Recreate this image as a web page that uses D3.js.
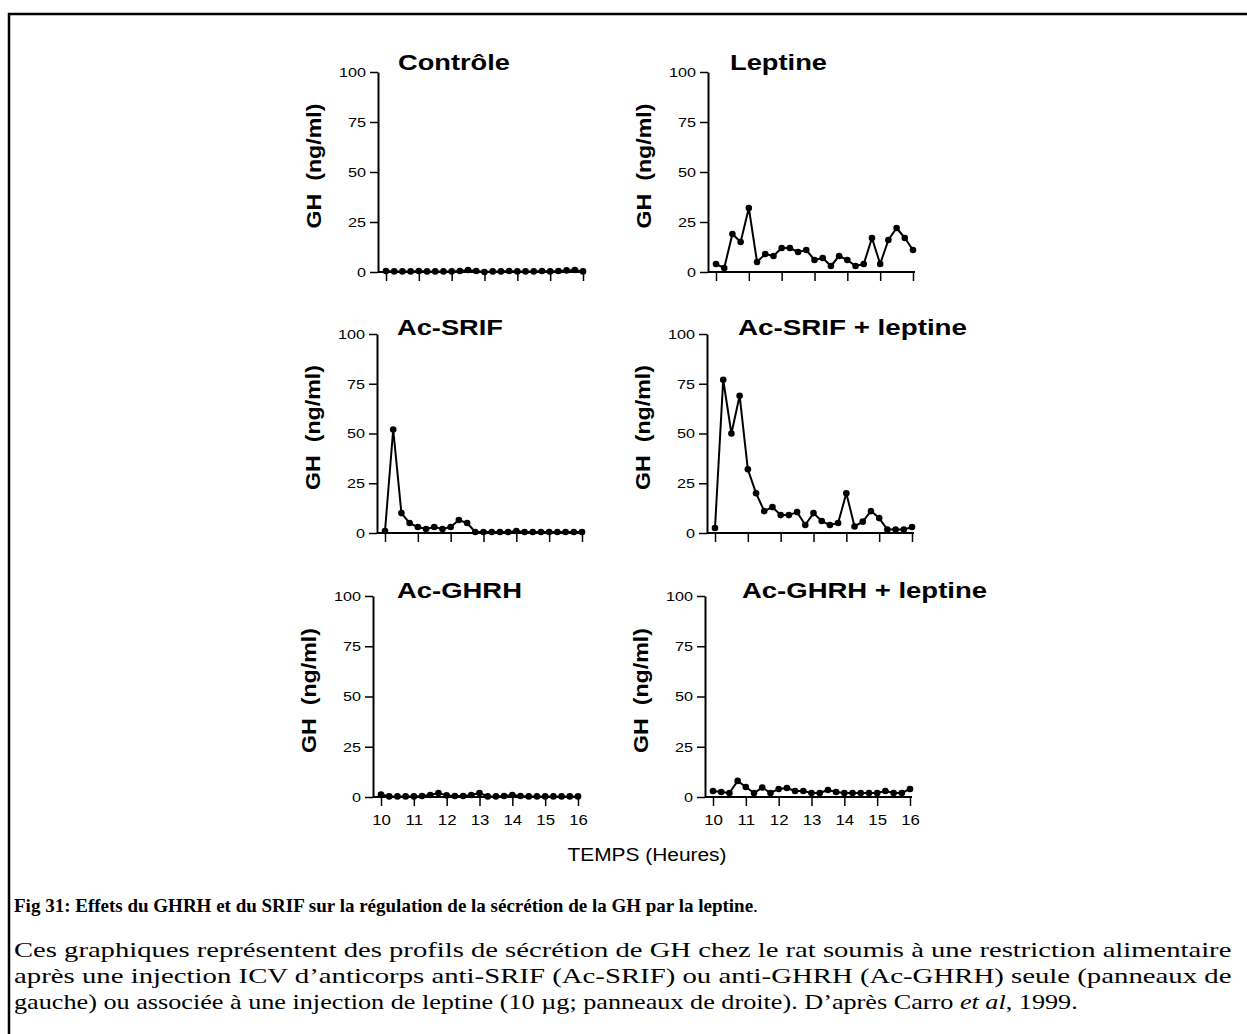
<!DOCTYPE html>
<html>
<head>
<meta charset="utf-8">
<script src="https://cdn.jsdelivr.net/npm/d3@7"></script>
<style>
  body { margin: 0; background: #fff; }
  svg text { fill: #000; }
</style>
</head>
<body>
<svg id="fig" width="1247" height="1034"></svg>
<script>
// sample times (hours), one sample every 15 min
const hours = [10, 10.25, 10.5, 10.75, 11, 11.25, 11.5, 11.75, 12, 12.25, 12.5, 12.75,
               13, 13.25, 13.5, 13.75, 14, 14.25, 14.5, 14.75, 15, 15.25, 15.5, 15.75, 16];

// GH (ng/ml)
const controle     = [0.5, 0.3, 0.3, 0.3, 0.5, 0.3, 0.3, 0.3, 0.3, 0.5, 1, 0.5, 0, 0.3, 0.3, 0.5, 0.3, 0.3, 0.3, 0.5, 0.3, 0.5, 0.8, 1, 0.3];
const leptine      = [4, 2, 19, 15, 32, 5, 9, 8, 12, 12, 10, 11, 6, 7, 3, 8, 6, 3, 4, 17, 4, 16, 22, 17, 11];
const acSrif       = [1, 52, 10, 5, 3, 2, 3, 2, 3, 6.5, 5, 0.5, 0.5, 0.5, 0.5, 0.5, 1, 0.5, 0.5, 0.5, 0.5, 0.5, 0.5, 0.5, 0.5];
const acSrifLep    = [2.5, 77, 50, 69, 32, 20, 11, 13, 9, 9, 10.5, 4, 10, 6, 4, 5, 20, 3.3, 5.7, 11, 7.5, 1.7, 1.7, 1.7, 3];
const acGhrh       = [1.2, 0.3, 0.3, 0.3, 0.3, 0.5, 1, 2, 0.8, 0.5, 0.5, 1, 2, 0.3, 0.3, 0.5, 1, 0.5, 0.3, 0.3, 0.3, 0.3, 0.3, 0.3, 0.3];
const acGhrhLep    = [3, 2.5, 2, 8, 5, 2, 4.7, 2, 4, 4.5, 3, 3, 2, 2, 3.5, 2.5, 2, 2, 2, 2, 2, 3, 2, 2, 4];

const panelTitles = ["Contrôle", "Leptine", "Ac-SRIF", "Ac-SRIF + leptine", "Ac-GHRH", "Ac-GHRH + leptine"];
const panelSeries = [controle, leptine, acSrif, acSrifLep, acGhrh, acGhrhLep];
const yTicks = [0, 25, 50, 75, 100];
const xTicks = [10, 11, 12, 13, 14, 15, 16];
const yLabel = "GH  (ng/ml)";
const xLabel = "TEMPS (Heures)";

const figTitle = "Fig 31: Effets du GHRH et du SRIF sur la régulation de la sécrétion de la GH par la leptine";
const captionLines = [
  "Ces graphiques représentent des profils de sécrétion de GH chez le rat soumis à une restriction alimentaire",
  "après une injection ICV d’anticorps anti-SRIF (Ac-SRIF) ou anti-GHRH (Ac-GHRH) seule (panneaux de"
];

const svg = d3.select("#fig");
const STRETCH = 1.2; // the scanned figure is a bit wider than tall
const sans = "Arial, 'Liberation Sans', sans-serif";
const serif = "'Times New Roman', 'Liberation Serif', serif";

// outer frame of the page
svg.append("rect")
  .attr("x", 9).attr("y", 14)
  .attr("width", 1260).attr("height", 1040)
  .attr("fill", "none").attr("stroke", "#000").attr("stroke-width", 2.5);

// where each panel sits: y-axis position, top (100) and bottom (0) pixel rows
const rows = [{top: 72, bot: 272, base: 70}, {top: 334, bot: 533, base: 335}, {top: 596, bot: 797, base: 598}];
const axisXs = [[378, 708], [377, 707], [373, 705]];
const titleDx = [[20, 22], [20, 31], [24, 37]];
const titleW = [[112, 97], [106, 229], [125, 245]];

panelSeries.forEach((vals, i) => {
  const r = Math.floor(i / 2), c = i % 2;
  const row = rows[r];
  const ax = axisXs[r][c];

  const x = d3.scaleLinear().domain([10, 16]).range([ax + 8, ax + 205]);
  const y = d3.scaleLinear().domain([0, 100]).range([row.bot, row.top]);

  const g = svg.append("g");

  // y axis
  const yAxis = g.append("g")
    .attr("transform", `translate(${ax},0)`)
    .call(d3.axisLeft(y).tickValues(yTicks).tickSize(8).tickSizeOuter(0).tickPadding(4));
  yAxis.select(".domain").attr("stroke-width", 2);
  yAxis.selectAll(".tick line").attr("stroke-width", 1.5);
  yAxis.selectAll(".tick text")
    .attr("font-family", sans)
    .attr("font-size", 13.5)
    .attr("x", 0)
    .attr("transform", `translate(-12,0) scale(${STRETCH},1)`);

  // x axis (labels only on the bottom row)
  const xAxis = g.append("g")
    .attr("transform", `translate(0,${row.bot})`)
    .call(d3.axisBottom(x).tickValues(xTicks).tickSize(9).tickSizeOuter(0)
      .tickFormat(r === 2 ? d3.format("d") : () => ""));
  xAxis.select(".domain").remove();
  xAxis.selectAll(".tick line").attr("stroke-width", 1.5);
  xAxis.selectAll(".tick text")
    .attr("font-family", sans)
    .attr("font-size", 14)
    .attr("y", 0).attr("dy", "0.71em")
    .attr("transform", `translate(0,18) scale(${STRETCH},1)`);
  g.append("line")
    .attr("x1", ax).attr("x2", x(16) + 2)
    .attr("y1", row.bot).attr("y2", row.bot)
    .attr("stroke", "#000").attr("stroke-width", 2);

  // y label
  g.append("text")
    .attr("transform", `translate(${ax - 57},${(row.top + row.bot) / 2 - 6}) rotate(-90)`)
    .attr("text-anchor", "middle")
    .attr("font-family", sans)
    .attr("font-weight", "bold").attr("font-size", 20)
    .attr("textLength", 125).attr("lengthAdjust", "spacingAndGlyphs")
    .attr("xml:space", "preserve")
    .text(yLabel);

  // panel title
  g.append("text")
    .attr("x", ax + titleDx[r][c]).attr("y", row.base)
    .attr("font-family", sans)
    .attr("font-weight", "bold").attr("font-size", 22)
    .attr("textLength", titleW[r][c]).attr("lengthAdjust", "spacingAndGlyphs")
    .text(panelTitles[i]);

  // profile
  const pts = hours.map((h, k) => [h, vals[k]]);
  g.append("path")
    .datum(pts)
    .attr("fill", "none").attr("stroke", "#000").attr("stroke-width", 2)
    .attr("stroke-linejoin", "round")
    .attr("d", d3.line().x(d => x(d[0])).y(d => y(d[1])));
  g.selectAll("circle")
    .data(pts)
    .enter()
    .append("circle")
    .attr("cx", d => x(d[0])).attr("cy", d => y(d[1]))
    .attr("r", 3.3).attr("fill", "#000");
});

// common x label
svg.append("text")
  .attr("x", 647).attr("y", 861)
  .attr("text-anchor", "middle")
  .attr("font-family", sans)
  .attr("font-size", 17.5)
  .attr("textLength", 159).attr("lengthAdjust", "spacingAndGlyphs")
  .text(xLabel);

// stretch a text line horizontally so it spans `w` pixels from its x
function fitWidth(t, x0, w) {
  const nat = t.node().getComputedTextLength();
  const k = w / nat;
  t.attr("transform", `translate(${x0},0) scale(${k},1)`).attr("x", 0);
}

// caption
const ft = svg.append("text")
  .attr("x", 14).attr("y", 912)
  .attr("font-family", serif).attr("font-size", 19)
  .attr("font-weight", "bold");
ft.append("tspan").text(figTitle);
ft.append("tspan").attr("font-weight", "normal").text(".");

captionLines.forEach((line, k) => {
  const t = svg.append("text")
    .attr("y", 957 + k * 26)
    .attr("font-family", serif).attr("font-size", 21)
    .text(line);
  fitWidth(t, 14, 1218);
});

const last = svg.append("text")
  .attr("y", 1009)
  .attr("font-family", serif).attr("font-size", 21);
last.append("tspan").text("gauche) ou associée à une injection de leptine (10 µg; panneaux de droite). D’après Carro ");
last.append("tspan").attr("font-style", "italic").text("et al");
last.append("tspan").text(", 1999.");
fitWidth(last, 14, 1064);
</script>
</body>
</html>
